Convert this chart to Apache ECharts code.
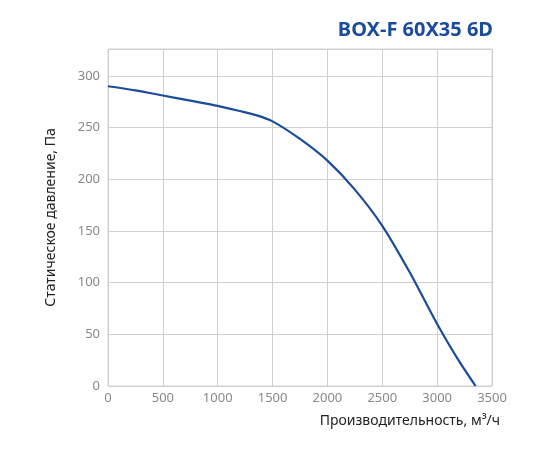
<!DOCTYPE html>
<html>
<head>
<meta charset="utf-8">
<script src="https://cdn.jsdelivr.net/npm/echarts@6/dist/echarts.min.js"></script>
<style>html,body{margin:0;padding:0;background:#fff}#chart{width:550px;height:450px}</style>
</head>
<body>
<div id="chart"></div>
<script>
// flow, m3/h vs static pressure, Pa
const flow = [0, 250, 500, 750, 1000, 1200, 1350, 1500, 1750, 2000, 2250, 2500, 2750, 3000, 3200, 3350];
const pressure = [290, 286, 281, 276, 271, 266, 262, 256, 239, 218, 190, 155, 110, 60, 24, 0];

const chart = echarts.init(document.getElementById('chart'));
const option = {
  title: {
    text: 'BOX-F 60X35 6D',
    right: 52,
    top: 15,
    textStyle: { color: '#1b4b9b', fontSize: 20, fontWeight: 'bold', fontFamily: 'Noto Sans' },
  },
  grid: { left: 108, right: 58, top: 49, bottom: 64, show: true, borderColor: '#d0d0d0', borderWidth: 1 },
  xAxis: {
    type: 'value',
    min: 0,
    max: 3500,
    interval: 500,
    name: 'Производительность, м³/ч',
    nameLocation: 'end',
    nameGap: 0,
    nameTextStyle: { color: '#222', fontSize: 14, fontFamily: 'Noto Sans', align: 'right', verticalAlign: 'top', padding: [28, -8, 0, 0] },
    axisLine: { show: false },
    axisTick: { show: false },
    axisLabel: { color: '#888', fontSize: 13, fontFamily: 'Noto Sans', margin: 6, formatter: (v) => String(v) },
    splitLine: { lineStyle: { color: '#d0d0d0' } },
  },
  yAxis: {
    type: 'value',
    min: 0,
    max: 326,
    interval: 50,
    name: 'Статическое давление, Па',
    nameLocation: 'middle',
    nameGap: 50,
    nameTextStyle: { color: '#222', fontSize: 14, fontFamily: 'Noto Sans' },
    axisLine: { show: false },
    axisTick: { show: false },
    axisLabel: {
      color: '#888', fontSize: 13, fontFamily: 'Noto Sans', margin: 8,
      formatter: (v) => (v % 50 === 0 ? v : ''),
    },
    splitLine: { lineStyle: { color: '#d0d0d0' } },
  },
  series: [
    {
      type: 'line',
      smooth: 0.25,
      symbol: 'none',
      lineStyle: { color: '#1b4b9b', width: 2.2 },
      data: flow.map((f, i) => [f, pressure[i]]),
    },
  ],
};
chart.setOption(option);
</script>
</body>
</html>
